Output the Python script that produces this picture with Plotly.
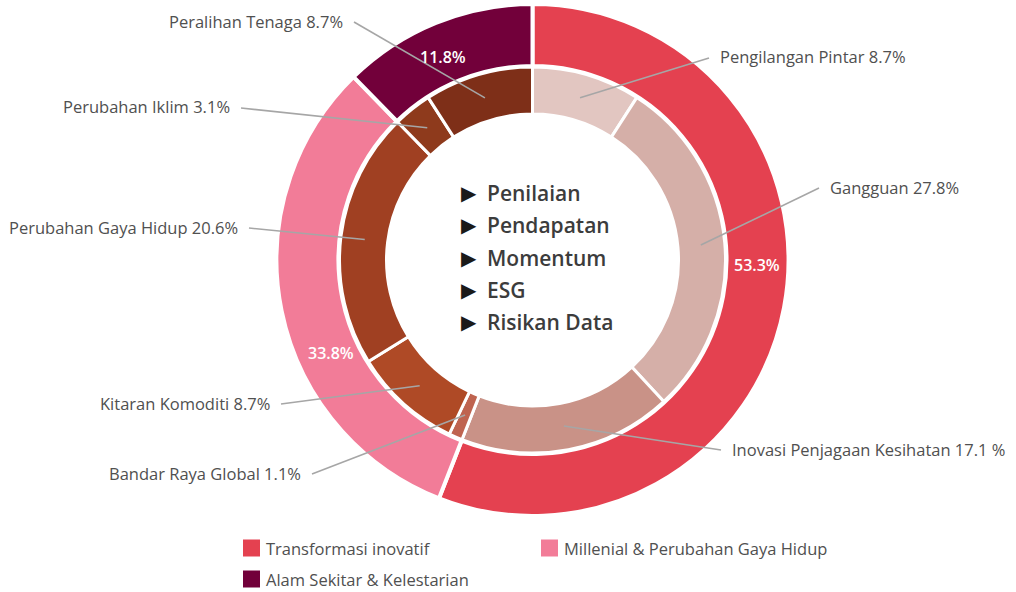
import math
import plotly.graph_objects as go

# ---------------- data ----------------
inner_labels = ["Pengilangan Pintar", "Gangguan", "Inovasi Penjagaan Kesihatan",
                "Bandar Raya Global", "Kitaran Komoditi", "Perubahan Gaya Hidup",
                "Perubahan Iklim", "Peralihan Tenaga"]
inner_values = [8.7, 27.8, 17.1, 1.1, 8.7, 20.6, 3.1, 8.7]
inner_text = ["Pengilangan Pintar 8.7%", "Gangguan 27.8%", "Inovasi Penjagaan Kesihatan 17.1 %",
              "Bandar Raya Global 1.1%", "Kitaran Komoditi 8.7%", "Perubahan Gaya Hidup 20.6%",
              "Perubahan Iklim 3.1%", "Peralihan Tenaga 8.7%"]

outer_labels = ["Transformasi inovatif", "Millenial & Perubahan Gaya Hidup",
                "Alam Sekitar & Kelestarian"]
outer_values = [53.6, 30.4, 11.8]          # arc sizes as drawn
outer_text = ["53.3%", "33.8%", "11.8%"]   # printed labels

center_items = ["Penilaian", "Pendapatan", "Momentum", "ESG", "Risikan Data"]

# ---------------- style ----------------
outer_colors = ["#E44150", "#F27C98", "#72003A"]
inner_colors = ["#E2C6C1", "#D5AFA8", "#C99287", "#BF6450",
                "#AF4A26", "#A04022", "#8E3A1C", "#7E2F18"]
FONT = "Open Sans"
TXT = "#505050"
FS = 16.5

W, H = 1016, 592
CX, CY = 532.5, 260
R_OUT, R_IN = 256, 193


def px(x):
    return x / W


def py(y):
    return 1 - y / H


def dom(r):
    return dict(x=[(CX - r) / W, (CX + r) / W], y=[(H - CY - r) / H, (H - CY + r) / H])


fig = go.Figure()
fig.add_trace(go.Pie(
    labels=outer_labels, values=outer_values, hole=194 / R_OUT, domain=dom(R_OUT),
    sort=False, direction="clockwise", rotation=0,
    marker=dict(colors=outer_colors, line=dict(color="white", width=4)),
    textinfo="none", hoverinfo="label", showlegend=False,
))
fig.add_trace(go.Pie(
    labels=inner_labels, values=inner_values, hole=146 / R_IN, domain=dom(R_IN),
    sort=False, direction="clockwise", rotation=0,
    marker=dict(colors=inner_colors, line=dict(color="white", width=3)),
    textinfo="none", hoverinfo="label+value", showlegend=False,
))

# label placement (layout): text edge x, text center y, side
label_pos = [(718, 57, "left"), (828, 187, "left"), (730, 449, "left"),
             (303, 473, "right"), (272, 403, "right"), (240, 227, "right"),
             (232, 107, "right"), (345, 21, "right")]

shapes = []
annotations = []
total = sum(inner_values)
cum = 0.0
for val, txt, (tx, ty, side) in zip(inner_values, inner_text, label_pos):
    mid = (cum + val / 2) / total * 2 * math.pi
    cum += val
    ax_ = CX + 169 * math.sin(mid)
    ay_ = CY - 169 * math.cos(mid)
    lx = tx - 9 if side == "left" else tx + 9
    shapes.append(dict(type="line", xref="paper", yref="paper",
                       x0=px(ax_), y0=py(ay_), x1=px(lx), y1=py(ty + 1),
                       line=dict(color="#A6A6A6", width=1.6)))
    annotations.append(dict(text=txt, xref="paper", yref="paper", x=px(tx), y=py(ty),
                            xanchor=side, yanchor="middle", showarrow=False,
                            font=dict(family=FONT, size=FS, color=TXT)))

# outer ring percent labels
for txt, (x, y) in zip(outer_text, [(757, 265), (331, 353), (443, 57)]):
    annotations.append(dict(text=txt, xref="paper", yref="paper", x=px(x), y=py(y),
                            xanchor="center", yanchor="middle", showarrow=False,
                            font=dict(family=FONT, size=16, color="white", weight=600)))

# center list
for i, item in enumerate(center_items):
    y = 193 + i * 32.3
    annotations.append(dict(text="\u25B6", xref="paper", yref="paper", x=px(469), y=py(y),
                            xanchor="center", yanchor="middle", showarrow=False,
                            font=dict(family="DejaVu Sans", size=20, color="#1a1a1a")))
    annotations.append(dict(text=item, xref="paper", yref="paper", x=px(485), y=py(y),
                            xanchor="left", yanchor="middle", showarrow=False,
                            font=dict(family=FONT, size=21, color="#3c3c3c", weight=600)))

# legend (key for the outer ring)
legend_pos = [(243, 548), (541, 548), (243, 579)]
for lab, col, (lx, ly) in zip(outer_labels, outer_colors, legend_pos):
    shapes.append(dict(type="rect", xref="paper", yref="paper",
                       x0=px(lx), x1=px(lx + 17), y0=py(ly - 8.5), y1=py(ly + 8.5),
                       fillcolor=col, line=dict(width=0)))
    annotations.append(dict(text=lab, xref="paper", yref="paper", x=px(lx + 21), y=py(ly),
                            xanchor="left", yanchor="middle", showarrow=False,
                            font=dict(family=FONT, size=FS, color=TXT)))

fig.update_layout(
    width=W, height=H,
    margin=dict(l=0, r=0, t=0, b=0),
    paper_bgcolor="white", plot_bgcolor="white",
    shapes=shapes, annotations=annotations,
    showlegend=False,
)

fig.write_html("out.html")
